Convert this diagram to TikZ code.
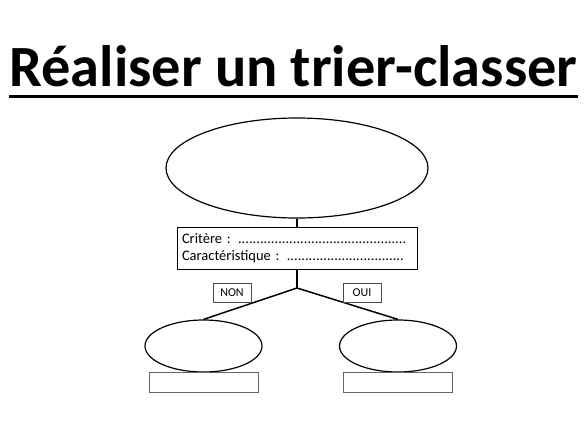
\documentclass[tikz,border=0pt]{standalone}
\usepackage{fontspec}
\setmainfont{Carlito}
\usetikzlibrary{shapes.geometric}
% dotted leaders for the blanks to fill in
\newcommand\pointilles[1]{\foreach \i in {1,...,#1}{.}}
\tikzset{
  bulle/.style={draw,ellipse,line width=1.2pt,inner sep=0pt},
  cadre/.style={draw=black!60,line width=0.8pt,inner sep=0pt},
  branche/.style={line width=1.5pt}
}
\begin{document}
\begin{tikzpicture}[x=1pt,y=-1pt]
    \useasboundingbox (0,0) rectangle (585,439);
    % title, underlined across its whole width
    \node[inner sep=0pt,anchor=base,font=\fontsize{58.4}{66}\selectfont\bfseries]
        (titre) at (293.5,86) {Réaliser un trier-classer};
    \draw[line width=3pt] ([yshift=-10.5pt]titre.base west) -- ([yshift=-10.5pt]titre.base east);
    % the set to sort
    \node[bulle,minimum width=262pt,minimum height=100pt] (ensemble) at (297,168) {};
    % the question asked
    \node[draw,line width=0.8pt,minimum width=240pt,minimum height=42pt,
          text width=230pt,align=left,inner sep=5pt,
          font=\fontsize{14.5}{17}\selectfont] (critere) at (297,248)
        {Critère : \pointilles{46}\\Caractéristique : \pointilles{32}};
    \coordinate (fourche) at (297,288);
    \draw[branche] (ensemble.south) -- (critere.north);
    \draw[branche] (critere.south) -- (fourche);
    % the two answers, NON on the left and OUI on the right
    \foreach \nom/\x in {non/203.5,oui/398} {
        \node[bulle,minimum width=117pt,minimum height=52pt] (\nom) at (\x,346) {};
        \node[cadre,minimum width=109pt,minimum height=20pt] (\nom-nom) at (\x,382) {};
        \draw[branche] (fourche) -- (\nom.north);
    }
    \node[cadre,draw=black!70,minimum width=38pt,minimum height=19pt,
          font=\fontsize{12}{14}\selectfont] (non-rep) at (232,292.5) {NON};
    \node[cadre,draw=black!70,minimum width=38pt,minimum height=19pt,
          font=\fontsize{12}{14}\selectfont] (oui-rep) at (362,292.5) {OUI};
\end{tikzpicture}
\end{document}
